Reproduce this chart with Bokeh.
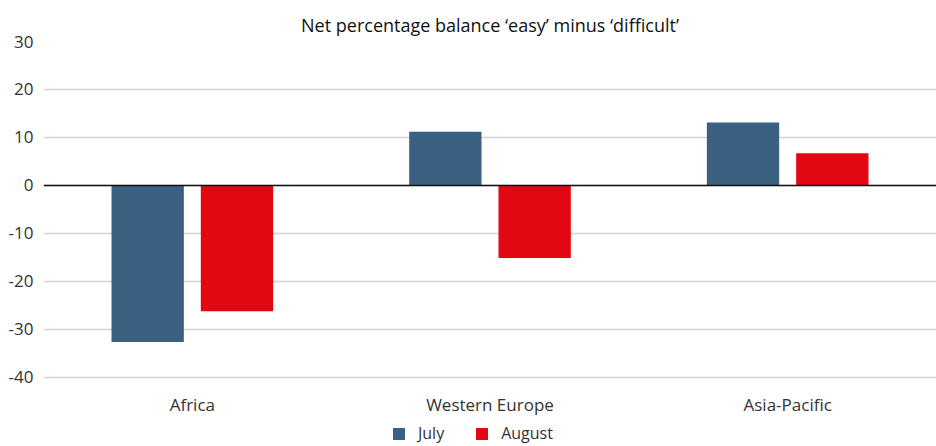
from bokeh.plotting import figure
from bokeh.models import ColumnDataSource, Span, Legend, LegendItem, FactorRange, FixedTicker
from bokeh.core.properties import value
from bokeh.transform import dodge
from bokeh.embed import file_html
from bokeh.resources import INLINE

regions = ["Africa", "Western Europe", "Asia-Pacific"]
july = [-32.6, 11.2, 13.1]
august = [-26.2, -15.1, 6.7]
series_names = ["July", "August"]
y_ticks = [-40, -30, -20, -10, 0, 10, 20, 30]
y_tick_labels = ["-40", "-30", "-20", "-10", "0", "10", "20", "30"]
title_text = "Net percentage balance \u2018easy\u2019 minus \u2018difficult\u2019"

FONT = "Open Sans"
src = ColumnDataSource(dict(region=regions, july=july, august=august))

# frame extends to the bottom of the canvas so the category labels and legend sit inside it
p = figure(frame_width=893, frame_height=405, x_range=FactorRange(*regions), y_range=(-54.4, 30),
           output_backend="svg", toolbar_location=None,
           min_border_left=43, min_border_right=0, min_border_top=41, min_border_bottom=0)
p.title.text = title_text
p.title.align = "center"
p.title.text_font = FONT
p.title.text_font_size = "18px"
p.title.text_font_style = "normal"
p.title.text_color = "#111111"
p.title.standoff = 10

r1 = p.vbar(x=dodge("region", -0.15, range=p.x_range), top="july", bottom=0, width=0.243,
            source=src, color="#3b6182", line_color=None)
r2 = p.vbar(x=dodge("region", 0.15, range=p.x_range), top="august", bottom=0, width=0.243,
            source=src, color="#e30613", line_color=None)

p.text(x="region", y=-45.6, text="region", source=src, text_align="center",
       text_baseline="middle", text_font=value(FONT), text_font_size="17px",
       text_color="#333333")

p.add_layout(Span(location=0, dimension="width", line_color="#111111", line_width=1.5))

p.outline_line_color = None
p.xgrid.grid_line_color = None
p.ygrid.grid_line_color = "#d4d4d4"
p.ygrid.grid_line_width = 1.5
p.xaxis.visible = False
p.yaxis.ticker = FixedTicker(ticks=y_ticks)
p.yaxis.major_label_overrides = dict(zip(y_ticks, y_tick_labels))
p.yaxis.axis_line_color = None
p.yaxis.major_tick_line_color = None
p.yaxis.minor_tick_line_color = None
p.yaxis.major_tick_out = 0
p.yaxis.major_tick_in = 0
p.yaxis.major_label_text_font = FONT
p.yaxis.major_label_text_color = "#333333"
p.yaxis.major_label_text_font_size = "17px"
p.yaxis.major_label_standoff = 10

legend = Legend(items=[LegendItem(label=series_names[0], renderers=[r1]),
                       LegendItem(label=series_names[1], renderers=[r2])],
                orientation="horizontal", location=(348, 2),
                glyph_width=15, glyph_height=15, label_text_font=FONT,
                label_text_font_size="16px", label_text_color="#333333",
                spacing=30, padding=0, margin=0, border_line_color=None,
                background_fill_alpha=0, label_standoff=12)
p.add_layout(legend, "center")

open("out.html", "w").write(file_html(p, INLINE))
